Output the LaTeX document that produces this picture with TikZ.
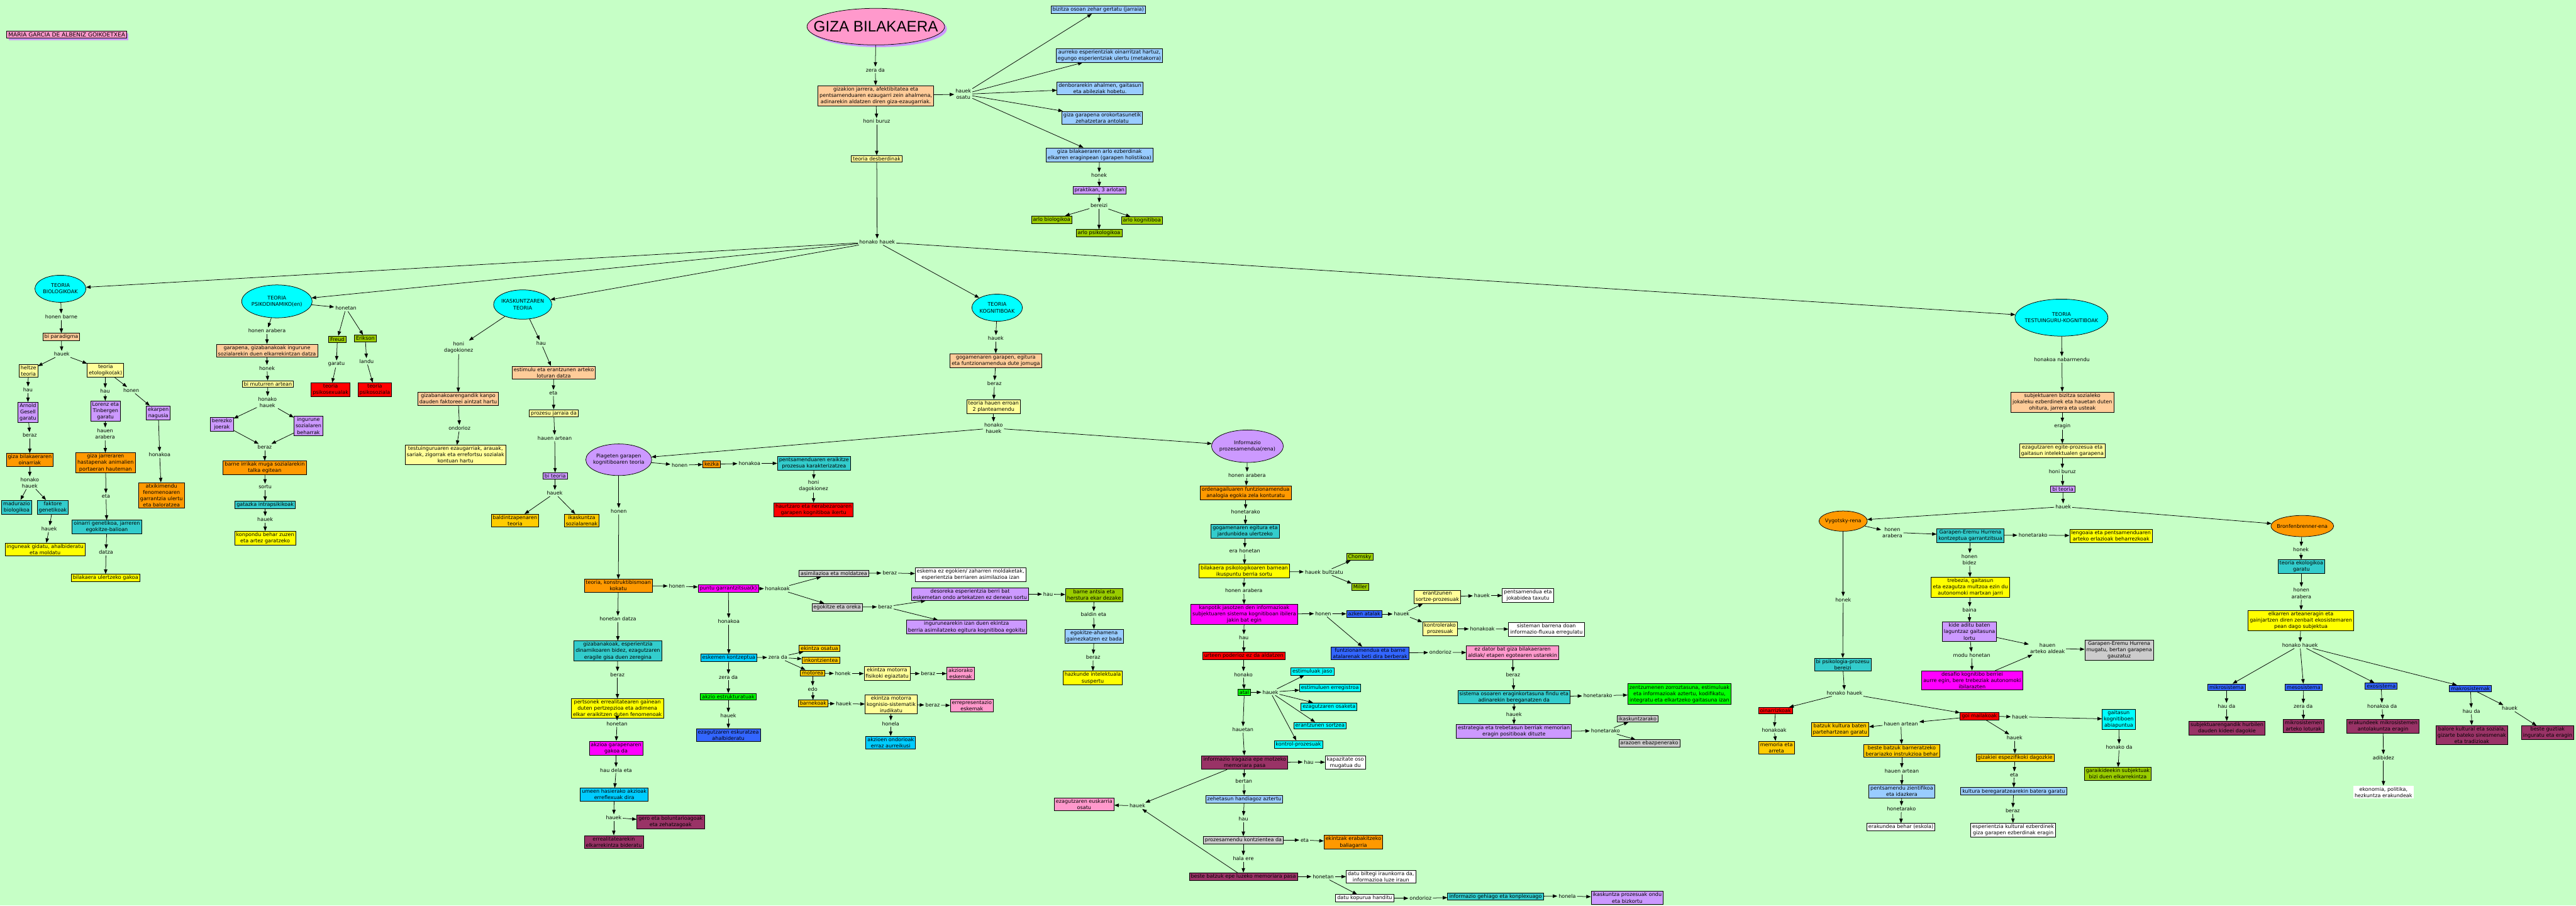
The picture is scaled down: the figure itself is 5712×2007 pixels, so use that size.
\documentclass[tikz,border=0pt]{standalone}
\usepackage{fontspec}
\setmainfont{DejaVu Sans}
\newfontfamily\titlefont{Liberation Sans}
\usepackage{xcolor}
\usetikzlibrary{arrows.meta,shapes.geometric}
\definecolor{bgGreen}{RGB}{198,255,198}
\definecolor{peach}{RGB}{255,204,153}
\definecolor{paleYellow}{RGB}{255,255,153}
\definecolor{brightYellow}{RGB}{255,255,0}
\definecolor{darkOrange}{RGB}{255,153,0}
\definecolor{gold}{RGB}{255,204,0}
\definecolor{cmTeal}{RGB}{51,204,204}
\definecolor{cmLav}{RGB}{204,153,255}
\definecolor{cmCyan}{RGB}{0,255,255}
\definecolor{cmSky}{RGB}{0,204,255}
\definecolor{cmLblue}{RGB}{153,204,255}
\definecolor{cmRoyal}{RGB}{51,102,255}
\definecolor{cmRed}{RGB}{255,0,0}
\definecolor{cmMag}{RGB}{255,0,255}
\definecolor{cmGreen}{RGB}{0,255,0}
\definecolor{cmOlive}{RGB}{153,204,0}
\definecolor{cmMaroon}{RGB}{153,51,102}
\definecolor{cmPink}{RGB}{255,153,204}
\definecolor{cmGray}{RGB}{204,204,204}
\begin{document}
\begin{tikzpicture}[x=0.01cm, y=-0.01cm,
  cbox/.style={draw, line width=0.3pt, align=center, inner xsep=1pt, inner ysep=0.8pt, font=\fontsize{3.2}{4}\selectfont},
  lbl/.style={align=center, inner sep=0.6pt, font=\fontsize{3.2}{4}\selectfont},
  theory/.style={ellipse, draw, line width=0.3pt, align=center, inner ysep=0pt, font=\fontsize{3.2}{4}\selectfont},
  arr/.style={line width=0.3pt, -{Triangle[length=0.1cm, width=0.075cm]}},
  titleoval/.style={ellipse, line width=0.3pt, minimum width=3cm, minimum height=0.81cm, inner xsep=-0.3cm, inner ysep=0pt, font=\titlefont\fontsize{9.6}{10}\selectfont},
  authorbox/.style={cbox, font=\fontsize{3.6}{4}\selectfont}]
\fill[bgGreen] (0,0) rectangle (5712,2007);
\useasboundingbox (0,0) rectangle (5712,2007);

\node[titleoval, fill=cmLav, text opacity=0] (titleshadow) at (1947,64) {GIZA BILAKAERA};
\node[titleoval, draw, fill=cmPink] (title) at (1942,59) {GIZA BILAKAERA};
\node[authorbox, draw=none, fill=cmLav, text opacity=0] (authorshadow) at (152,82) {MARIA GARCIA DE ALBENIZ GOIKOETXEA};
\node[authorbox, fill=cmPink] (author) at (148,77) {MARIA GARCIA DE ALBENIZ GOIKOETXEA};

\node[lbl] (zd) at (1941,155) {zera da};
\node[cbox, fill=peach] (def) at (1942,212) {gizakion jarrera, afektibitatea eta\\pentsamenduaren ezaugarri zein ahalmena,\\adinarekin aldatzen diren giza-ezaugarriak.};
\node[lbl] (osatu) at (2136,209) {hauek\\osatu};
\node[cbox, fill=cmLblue] (p1) at (2435,22) {bizitza osoan zehar gertatu (jarraia)};
\node[cbox, fill=cmLblue] (p2) at (2460,123) {aurreko esperientziak oinarritzat hartuz,\\egungo esperientziak ulertu (metakorra)};
\node[cbox, fill=cmLblue] (p3) at (2439,196) {denborarekin ahalmen, gaitasun\\eta abileziak hobetu.};
\node[cbox, fill=cmLblue] (p4) at (2444,261) {giza garapena orokortasunetik\\zehatzetara antolatu};
\node[cbox, fill=cmLblue] (p5) at (2438,343) {giza bilakaeraren arlo ezberdinak\\elkarren eraginpean (garapen holistikoa)};
\node[lbl] (honek1) at (2437,389) {honek};
\node[cbox, fill=cmLav] (prak) at (2438,422) {praktikan, 3 arlotan};
\node[lbl] (bereizi) at (2437,456) {bereizi};
\node[cbox, fill=cmOlive] (arlo1) at (2332,487) {arlo biologikoa};
\node[cbox, fill=cmOlive] (arlo2) at (2437,517) {arlo psikologikoa};
\node[cbox, fill=cmOlive] (arlo3) at (2532,489) {arlo kognitiboa};
\node[lbl] (hburuz) at (1944,269) {honi buruz};
\node[cbox, fill=paleYellow] (teoriak) at (1944,352) {teoria desberdinak};
\node[lbl] (honako) at (1945,536) {honako hauek};

\node[theory, fill=cmCyan, inner xsep=-0.03cm, minimum width=1.13cm, minimum height=0.6cm] (bio) at (134,640) {TEORIA\\BIOLOGIKOAK};
\node[theory, fill=cmCyan, inner xsep=-0.05cm, minimum width=1.56cm, minimum height=0.73cm] (psi) at (614,668) {TEORIA\\PSIKODINAMIKO(en)};
\node[theory, fill=cmCyan, inner xsep=-0.045cm, minimum width=1.29cm, minimum height=0.65cm] (ika) at (1159,675) {IKASKUNTZAREN\\TEORIA};
\node[theory, fill=cmCyan, inner xsep=-0.03cm, minimum width=1.12cm, minimum height=0.6cm] (kog) at (2211,682) {TEORIA\\KOGNITIBOAK};
\node[theory, fill=cmCyan, inner xsep=-0.15cm, minimum width=2.06cm, minimum height=0.82cm] (tes) at (4571,704) {TEORIA\\TESTUINGURU-KOGNITIBOAK};

\node[lbl] (b1) at (136,702) {honen barne};
\node[cbox, fill=peach] (bipar) at (136,747) {bi paradigma};
\node[lbl] (b2) at (137,785) {hauek};
\node[cbox, fill=paleYellow] (heltze) at (63,822) {heltze\\teoria};
\node[cbox, fill=paleYellow] (etol) at (234,821) {teoria\\etologiko(ak)};
\node[lbl] (b3) at (62,864) {hau};
\node[cbox, fill=cmLav] (gesell) at (62,914) {Arnold\\Gesell\\garatu};
\node[lbl] (b4) at (66,965) {beraz};
\node[cbox, fill=darkOrange] (oinarri) at (66,1019) {giza bilakaeraren\\oinarriak};
\node[lbl] (b5) at (66,1070) {honako\\hauek};
\node[cbox, fill=cmTeal] (madur) at (37,1124) {madurazio\\biologikoa};
\node[cbox, fill=cmTeal] (faktore) at (117,1124) {faktore\\genetikoak};
\node[lbl] (b6) at (109,1172) {hauek};
\node[cbox, fill=brightYellow] (ingune) at (100,1218) {inguneak gidatu, ahalbideratu\\eta moldatu};
\node[lbl] (b7) at (233,867) {hau};
\node[lbl] (b8) at (291,865) {honen};
\node[cbox, fill=cmLav] (lorenz) at (234,911) {Lorenz eta\\Tinbergen\\garatu};
\node[lbl] (b9) at (233,962) {hauen\\arabera};
\node[cbox, fill=darkOrange] (hasta) at (234,1026) {giza jarreraren\\hastapenak animalien\\portaeran hauteman};
\node[lbl] (b10) at (235,1100) {eta};
\node[cbox, fill=cmTeal] (genet) at (237,1168) {oinarri genetikoa, jarreren\\egokitze-balioan};
\node[lbl] (b11) at (235,1224) {datza};
\node[cbox, fill=brightYellow] (gakoa) at (234,1281) {bilakaera ulertzeko gakoa};
\node[cbox, fill=cmLav] (ekarpen) at (351,915) {ekarpen\\nagusia};
\node[lbl] (b12) at (354,1008) {honakoa};
\node[cbox, fill=darkOrange] (atxiki) at (358,1098) {atxikimendu\\fenomenoaren\\garrantzia ulertu\\eta baloratzea};

\node[lbl] (s1) at (592,733) {honen arabera};
\node[cbox, fill=peach] (garapena) at (592,777) {garapena, gizabanakoak ingurune\\sozialarekin duen elkarrekintzan datza};
\node[lbl] (s2) at (592,816) {honek};
\node[cbox, fill=paleYellow] (mutur) at (594,851) {bi muturren artean};
\node[lbl] (s3) at (593,892) {honako\\hauek};
\node[cbox, fill=cmLav] (berezko) at (492,940) {berezko\\joerak};
\node[cbox, fill=cmLav] (beharrak) at (684,944) {ingurune\\sozialaren\\beharrak};
\node[lbl] (s4) at (587,991) {beraz};
\node[cbox, fill=darkOrange] (irrika) at (587,1037) {barne irrikak muga sozialarekin\\talka egitean};
\node[lbl] (s5) at (588,1079) {sortu};
\node[cbox, fill=cmTeal] (gatazka) at (588,1119) {gatazka intrapsikikoak};
\node[lbl] (s6) at (588,1151) {hauek};
\node[cbox, fill=brightYellow] (konpondu) at (588,1193) {konpondu behar zuzen\\eta artez garatzeko};
\node[lbl] (s7) at (767,683) {honetan};
\node[cbox, fill=cmOlive] (freud) at (748,752) {Freud};
\node[cbox, fill=cmOlive] (erikson) at (810,750) {Erikson};
\node[lbl] (s8) at (746,807) {garatu};
\node[lbl] (s9) at (813,801) {landu};
\node[cbox, fill=cmRed] (psex) at (733,864) {teoria\\psikosexualak};
\node[cbox, fill=cmRed] (psoz) at (831,864) {teoria\\psikosoziala};

\node[lbl] (k1) at (1017,770) {honi\\dagokionez};
\node[cbox, fill=peach] (kanpo) at (1016,884) {gizabanakoarengandik kanpo\\dauden faktoreei aintzat hartu};
\node[lbl] (k2) at (1019,949) {ondorioz};
\node[cbox, fill=paleYellow] (testu) at (1010,1008) {testuinguruaren ezaugarriak, arauak,\\sariak, zigorrak eta errefortsu sozialak\\kontuan hartu};
\node[lbl] (k3) at (1200,761) {hau};
\node[cbox, fill=peach] (estim) at (1228,826) {estimulu eta erantzunen arteko\\loturan datza};
\node[lbl] (k4) at (1227,871) {eta};
\node[cbox, fill=paleYellow] (jarraia) at (1228,916) {prozesu jarraia da};
\node[lbl] (k5) at (1230,971) {hauen artean};
\node[cbox, fill=cmLav] (biteo) at (1231,1055) {bi teoria};
\node[lbl] (k6) at (1230,1093) {hauek};
\node[cbox, fill=gold] (baldin) at (1142,1154) {baldintzapenaren\\teoria};
\node[cbox, fill=gold] (ikassoz) at (1290,1154) {ikaskuntza\\sozialarenak};

\node[lbl] (g1) at (2208,750) {hauek};
\node[cbox, fill=peach] (gogam) at (2208,799) {gogamenaren garapen, egitura\\eta funtzionamendua dute jomuga};
\node[lbl] (g2) at (2205,850) {beraz};
\node[cbox, fill=paleYellow] (erroan) at (2203,901) {teoria hauen erroan\\2 planteamendu};
\node[lbl] (g3) at (2203,949) {honako\\hauek};
\node[theory, fill=cmLav, inner xsep=-0.12cm, minimum width=1.46cm, minimum height=0.7cm] (piaget) at (1372,1019) {Piageten garapen\\kognitiboaren teoria};
\node[theory, fill=cmLav, inner xsep=-0.06cm, minimum width=1.58cm, minimum height=0.72cm] (info) at (2766,989) {Informazio\\prozesamendua(rena)};

\node[lbl] (a1) at (1507,1031) {honen};
\node[cbox, fill=darkOrange] (kezka) at (1578,1029) {kezka};
\node[lbl] (a2) at (1662,1027) {honakoa};
\node[cbox, fill=cmTeal] (eraiki) at (1805,1027) {pentsamenduaren eraikitze\\prozesua karakterizatzea};
\node[lbl] (a3) at (1804,1077) {honi\\dagokionez};
\node[cbox, fill=cmRed] (haurtz) at (1804,1130) {haurtzaro eta nerabezaroaren\\garapen kognitiboa ikertu};
\node[lbl] (a4) at (1372,1133) {honen};
\node[cbox, fill=darkOrange] (konstr) at (1371,1298) {teoria, konstruktibismoan\\kokatu};
\node[lbl] (a5) at (1501,1299) {honen};
\node[cbox, fill=cmMag] (puntu) at (1615,1304) {puntu garrantzitsua(k)};
\node[lbl] (a6) at (1724,1305) {honakoak};
\node[cbox, fill=cmGray] (asimil) at (1849,1271) {asimilazioa eta moldatzea};
\node[lbl] (a7) at (1973,1270) {beraz};
\node[cbox, fill=white] (eskema) at (2152,1274) {eskema ez egokien/ zaharren moldaketak,\\esperientzia berriaren asimilazioa izan};
\node[cbox, fill=cmGray] (oreka) at (1856,1346) {egokitze eta oreka};
\node[lbl] (a8) at (1963,1345) {beraz};
\node[cbox, fill=cmLav] (desoreka) at (2151,1317) {desoreka esperientzia berri bat\\eskemetan ondo artekatzen ez denean sortu};
\node[cbox, fill=cmLav] (egokitu) at (2143,1390) {ingurunearekin izan duen ekintza\\berria asimilatzeko egitura kognitiboa egokitu};
\node[lbl] (a9) at (2324,1317) {hau};
\node[cbox, fill=cmOlive] (antsia) at (2426,1319) {barne antsia eta\\herstura ekar dezake};
\node[lbl] (a10) at (2425,1362) {baldin eta};
\node[cbox, fill=cmLblue] (ahamena) at (2426,1410) {egokitze-ahamena\\gainezkatzen ez bada};
\node[lbl] (a11) at (2424,1457) {beraz};
\node[cbox, fill=brightYellow] (hazkunde) at (2423,1503) {hazkunde intelektuala\\suspertu};
\node[lbl] (a12) at (1370,1372) {honetan datza};
\node[cbox, fill=cmTeal] (zeregin) at (1370,1443) {gizabanakoak, esperientzia\\dinamikoaren bidez, ezagutzaren\\eragile gisa duen zeregina};
\node[lbl] (a13) at (1369,1495) {beraz};
\node[cbox, fill=brightYellow] (fenom) at (1369,1570) {pertsonek errealitatearen gainean\\duten pertzepzioa eta adimena\\elkar eraikitzen duten fenomenoak};
\node[lbl] (a14) at (1368,1604) {honetan};
\node[cbox, fill=cmMag] (akzioa) at (1366,1658) {akzioa garapenaren\\gakoa da};
\node[lbl] (a15) at (1366,1707) {hau dela eta};
\node[cbox, fill=cmSky] (umeen) at (1362,1761) {umeen hasierako akzioak\\erreflexuak dira};
\node[lbl] (a16) at (1361,1812) {hauek};
\node[cbox, fill=cmMaroon] (gero) at (1487,1822) {gero eta boluntarioagoak\\eta zehatzagoak};
\node[cbox, fill=cmMaroon] (erreal) at (1361,1866) {errealitatearekin\\elkarrekintza bideratu};
\node[lbl] (a17) at (1616,1377) {honakoa};
\node[cbox, fill=cmSky] (eskemen) at (1616,1458) {eskemen kontzeptua};
\node[lbl] (a18) at (1725,1457) {zera da};
\node[lbl] (a19) at (1615,1501) {zera da};
\node[cbox, fill=cmGreen] (estrukt) at (1615,1544) {akzio estrukturatuak};
\node[lbl] (a20) at (1615,1586) {hauek};
\node[cbox, fill=cmRoyal] (eskurat) at (1615,1629) {ezagutzaren eskuratzea\\ahalbideratu};
\node[cbox, fill=gold] (osatua) at (1817,1437) {ekintza osatua};
\node[cbox, fill=gold] (inkontz) at (1820,1463) {inkontzientea};
\node[cbox, fill=gold] (motorea) at (1802,1492) {motorea};
\node[lbl] (a21) at (1869,1493) {honek};
\node[cbox, fill=paleYellow] (fisiko) at (1967,1493) {ekintza motorra\\fisikoki egiaztatu};
\node[lbl] (a22) at (2058,1493) {beraz};
\node[cbox, fill=cmPink] (akziorako) at (2130,1493) {akziorako\\eskemak};
\node[lbl] (a23) at (1802,1527) {edo};
\node[cbox, fill=gold] (barneko) at (1803,1559) {barnekoak};
\node[lbl] (a24) at (1871,1560) {hauek};
\node[cbox, fill=paleYellow] (kognisio) at (1976,1561) {ekintza motorra\\kognisio-sistematik\\irudikatu};
\node[lbl] (a25) at (2068,1563) {beraz};
\node[cbox, fill=cmPink] (errepre) at (2155,1564) {errepresentazio\\eskemak};
\node[lbl] (a26) at (1975,1604) {honela};
\node[cbox, fill=cmSky] (ondorio) at (1975,1646) {akzioen ondorioak\\erraz aurreikusi};

\node[lbl] (i1) at (2765,1053) {honen arabera};
\node[cbox, fill=darkOrange] (ordena) at (2762,1092) {ordenagailuaren funtzionamendua\\analogia egokia zela konturatu};
\node[lbl] (i2) at (2762,1135) {honetarako};
\node[cbox, fill=cmTeal] (jardun) at (2761,1178) {gogamenaren egitura eta\\jardunbidea ulertzeko};
\node[lbl] (i3) at (2760,1221) {era honetan};
\node[cbox, fill=brightYellow] (ikusp) at (2759,1266) {bilakaera psikologikoaren barnean\\ikuspuntu berria sortu};
\node[lbl] (i4) at (2936,1268) {hauek bultzatu};
\node[cbox, fill=cmOlive] (chomsky) at (3015,1234) {Chomsky};
\node[cbox, fill=cmOlive] (miller) at (3016,1301) {Miller};
\node[lbl] (i5) at (2758,1309) {honen arabera};
\node[cbox, fill=cmMag] (kanpotik) at (2759,1362) {kanpotik jasotzen den informazioak\\subjektuaren sistema kognitiboan ibilera\\jakin bat egin};
\node[lbl] (i6) at (2934,1360) {honen};
\node[cbox, fill=cmRoyal] (azken) at (3025,1361) {azken atalak};
\node[lbl] (i7) at (3108,1361) {hauek};
\node[cbox, fill=paleYellow] (sortze) at (3187,1323) {erantzunen\\sortze-prozesuak};
\node[lbl] (i8) at (3286,1320) {hauek};
\node[cbox, fill=white] (taxutu) at (3388,1320) {pentsamendua eta\\jokabidea taxutu};
\node[cbox, fill=paleYellow] (kontrolp) at (3193,1394) {kontrolerako\\prozesuak};
\node[lbl] (i9) at (3287,1394) {honakoak};
\node[cbox, fill=white] (fluxua) at (3429,1395) {sisteman barrena doan\\informazio-fluxua erregulatu};
\node[cbox, fill=cmRoyal] (berberak) at (3038,1448) {funtzionamendua eta barne\\atalarenak beti dira berberak};
\node[lbl] (i10) at (3194,1446) {ondorioz};
\node[cbox, fill=cmPink] (ezdator) at (3354,1447) {ez dator bat giza bilakaeraren\\aldiak/ etapen egotearen ustarekin};
\node[lbl] (i11) at (3355,1496) {beraz};
\node[cbox, fill=cmTeal] (findu) at (3357,1545) {sistema osoaren eraginkortasuna findu eta\\adinarekin bereganatzen da};
\node[lbl] (i12) at (3543,1542) {honetarako};
\node[cbox, fill=cmGreen] (zentzu) at (3724,1538) {zentzumenen zorroztasuna, estimuluak\\eta informazioak aztertu, kodifikatu,\\integratu eta elkartzeko gaitasuna izan};
\node[lbl] (i13) at (3357,1583) {hauek};
\node[cbox, fill=cmLav] (estrat) at (3357,1621) {estrategia eta trebetasun berriak memorian\\eragin positiboak dituzte};
\node[lbl] (i14) at (3560,1620) {honetarako};
\node[cbox, fill=cmGray] (ikaskr) at (3631,1593) {ikaskuntzarako};
\node[cbox, fill=cmGray] (arazo) at (3657,1648) {arazoen ebazpenerako};
\node[lbl] (i15) at (2758,1413) {hau};
\node[cbox, fill=cmRed] (urteen) at (2758,1454) {urteen poderioz ez da aldatzen};
\node[lbl] (i16) at (2757,1495) {honako};
\node[cbox, fill=cmGreen] (atal) at (2759,1535) {atal};
\node[lbl] (i17) at (2817,1534) {hauek};
\node[cbox, fill=cmCyan] (jaso) at (2910,1488) {estimuluak jaso};
\node[cbox, fill=cmCyan] (erreg) at (2949,1525) {estimuluen erregistroa};
\node[cbox, fill=cmCyan] (osaketa) at (2947,1566) {ezagutzaren osaketa};
\node[cbox, fill=cmCyan] (erantz) at (2927,1608) {erantzunen sortzea};
\node[cbox, fill=cmCyan] (kontrol) at (2879,1650) {kontrol-prozesuak};
\node[lbl] (i18) at (2756,1617) {hauetan};
\node[cbox, fill=cmMaroon] (motz) at (2760,1690) {informazio iragazia epe motzeko\\memoriara pasa};
\node[lbl] (i19) at (2902,1689) {hau};
\node[cbox, fill=white] (kapaz) at (2983,1690) {kapazitate oso\\mugatua du};
\node[lbl] (i20) at (2758,1731) {bertan};
\node[cbox, fill=cmLblue] (zehet) at (2759,1771) {zehetasun handiagoz aztertu};
\node[lbl] (i21) at (2757,1815) {hau};
\node[cbox, fill=cmGray] (kontz) at (2757,1862) {prozesamendu kontzientea da};
\node[lbl] (i22) at (2893,1862) {eta};
\node[cbox, fill=darkOrange] (erabaki) at (3001,1867) {ekintzak erabakitzeko\\baliagarria};
\node[lbl] (i23) at (2757,1903) {hala ere};
\node[cbox, fill=cmMaroon] (luzeko) at (2757,1943) {beste batzuk epe luzeko memoriara pasa};
\node[lbl] (i24) at (2934,1943) {honetan};
\node[cbox, fill=white] (biltegi) at (3062,1943) {datu biltegi iraunkorra da,\\informazioa luze iraun};
\node[cbox, fill=white] (kopurua) at (3026,1991) {datu kopurua handitu};
\node[lbl] (i25) at (3150,1991) {ondorioz};
\node[cbox, fill=cmTeal] (gehiago) at (3316,1987) {informazio gehiago eta konplexuago};
\node[lbl] (i26) at (3475,1986) {honela};
\node[cbox, fill=cmLav] (bizkor) at (3608,1990) {ikaskuntza prozesuak ondu\\eta bizkortu};
\node[lbl] (i27) at (2522,1786) {hauek};
\node[cbox, fill=cmPink] (euskarri) at (2404,1783) {ezagutzaren euskarria\\osatu};

\node[lbl] (t1) at (4572,797) {honakoa nabarmendu};
\node[cbox, fill=peach] (jokaleku) at (4573,891) {subjektuaren bizitza sozialeko\\jokaleku ezberdinek eta hauetan duten\\ohitura, jarrera eta usteak};
\node[lbl] (t2) at (4573,944) {eragin};
\node[cbox, fill=paleYellow] (egite) at (4573,999) {ezagutzaren egite-prozesua eta\\gaitasun intelektualen garapena};
\node[lbl] (t3) at (4573,1045) {honi buruz};
\node[cbox, fill=cmLav] (biteo2) at (4574,1084) {bi teoria};
\node[lbl] (t4) at (4575,1123) {hauek};
\node[theory, fill=darkOrange, inner xsep=-0.05cm, minimum width=1.07cm, minimum height=0.45cm] (vyg) at (4087,1155) {Vygotsky-rena};
\node[theory, fill=darkOrange, inner xsep=-0.1cm, minimum width=1.39cm, minimum height=0.47cm] (bron) at (5105,1166) {Bronfenbrenner-ena};
\node[lbl] (t5) at (4196,1180) {honen\\arabera};
\node[cbox, fill=cmTeal] (geh) at (4369,1187) {Garapen-Eremu Hurrena\\kontzeptua garrantzitsua};
\node[lbl] (t6) at (4508,1186) {honetarako};
\node[cbox, fill=brightYellow] (lengo) at (4681,1188) {lengoaia eta pentsamenduaren\\arteko erlazioak beharrezkoak};
\node[lbl] (t7) at (4367,1240) {honen\\bidez};
\node[cbox, fill=brightYellow] (trebezia) at (4369,1302) {trebezia, gaitasun\\eta ezagutza multzoa ezin du\\autonomoki martxan jarri};
\node[lbl] (t8) at (4367,1352) {baina};
\node[cbox, fill=cmLav] (kide) at (4367,1400) {kide aditu baten\\laguntzaz gaitasuna\\lortu};
\node[lbl] (t9) at (4540,1437) {hauen\\arteko aldeak};
\node[cbox, fill=cmGray] (mugatu) at (4699,1441) {Garapen-Eremu Hurrena\\mugatu, bertan garapena\\gauzatuz};
\node[lbl] (t10) at (4372,1452) {modu honetan};
\node[cbox, fill=cmMag] (desafio) at (4373,1508) {desafio kognitibo berriei\\aurre egin, bere trebeziak autonomoki\\ibilarazten};
\node[lbl] (t11) at (4087,1329) {honek};
\node[cbox, fill=cmTeal] (biprozesu) at (4086,1473) {bi psikologia-prozesu\\bereizi};
\node[lbl] (t12) at (4090,1536) {honako hauek};
\node[cbox, fill=cmRed] (oinarrizko) at (3937,1575) {oinarrizkoak};
\node[lbl] (t13) at (3934,1618) {honakoak};
\node[cbox, fill=gold] (memoria) at (3939,1657) {memoria eta\\arreta};
\node[cbox, fill=cmRed] (goi) at (4389,1587) {goi mailakoak};
\node[lbl] (t14) at (4215,1604) {hauen artean};
\node[cbox, fill=gold] (partehartu) at (4080,1617) {batzuk kultura baten\\partehartzean garatu};
\node[cbox, fill=gold] (instruk) at (4217,1664) {beste batzuk barneratzeko\\berariazko instrukzioa behar};
\node[lbl] (t15) at (4217,1709) {hauen artean};
\node[cbox, fill=cmLblue] (zientif) at (4217,1754) {pentsamendu zientifikoa\\eta idazkera};
\node[lbl] (t16) at (4216,1793) {honetarako};
\node[cbox, fill=white] (eskola) at (4215,1833) {erakundea behar (eskola)};
\node[lbl] (t17) at (4479,1589) {hauek};
\node[lbl] (t18) at (4467,1635) {hauek};
\node[cbox, fill=cmCyan] (abiap) at (4698,1594) {gaitasun\\kognitiboen\\abiapuntua};
\node[lbl] (t19) at (4699,1656) {honako da};
\node[cbox, fill=cmOlive] (garaik) at (4696,1715) {garaikideekin subjektuak\\bizi duen elkarrekintza};
\node[cbox, fill=gold] (espezif) at (4468,1679) {gizakiei espezifikoki dagozkie};
\node[lbl] (t20) at (4466,1717) {eta};
\node[cbox, fill=cmLblue] (beregar) at (4465,1754) {kultura beregaratzearekin batera garatu};
\node[lbl] (t21) at (4463,1797) {beraz};
\node[cbox, fill=white] (kultural) at (4464,1840) {esperientzia kultural ezberdinek\\giza garapen ezberdinak eragin};
\node[lbl] (t22) at (5102,1218) {honek};
\node[cbox, fill=cmTeal] (ekolog) at (5103,1256) {teoria ekologikoa\\garatu};
\node[lbl] (t23) at (5103,1315) {honen\\arabera};
\node[cbox, fill=brightYellow] (ekosist) at (5102,1375) {elkarren arteaneragin eta\\gainjartzen diren zenbait ekosistemaren\\pean dago subjektua};
\node[lbl] (t24) at (5100,1430) {honako hauek};
\node[cbox, fill=cmRoyal] (mikro) at (4937,1523) {mikrosistema};
\node[cbox, fill=cmRoyal] (meso) at (5108,1523) {mesosistema};
\node[cbox, fill=cmRoyal] (exo) at (5280,1521) {exosistema};
\node[cbox, fill=cmRoyal] (makro) at (5478,1526) {makrosistemak};
\node[lbl] (t25) at (4937,1565) {hau da};
\node[cbox, fill=cmMaroon] (hurbil) at (4938,1614) {subjektuarengandik hurbilen\\dauden kideei dagokie};
\node[lbl] (t26) at (5107,1566) {zera da};
\node[cbox, fill=cmMaroon] (loturak) at (5108,1609) {mikrosistemen\\arteko loturak};
\node[lbl] (t27) at (5282,1565) {honakoa da};
\node[cbox, fill=cmMaroon] (antolak) at (5284,1610) {erakundeek mikrosistemen\\antolakuntza eragin};
\node[lbl] (t28) at (5285,1679) {adibidez};
\node[cbox, fill=white, draw=none] (ekonom) at (5285,1756) {ekonomia, politika,\\hezkuntza erakundeak};
\node[lbl] (t29) at (5480,1576) {hau da};
\node[lbl] (t30) at (5565,1570) {hauek};
\node[cbox, fill=cmMaroon] (balore) at (5481,1629) {balore kultural eta soziala,\\gizarte bateko sinesmenak\\eta tradizioak};
\node[cbox, fill=cmMaroon] (inguratu) at (5649,1624) {beste guztiak\\inguratu eta eragin};

\foreach \a/\b in {title/zd, zd/def, def/osatu, osatu/p1, osatu/p2, osatu/p3, osatu/p4, osatu/p5, p5/honek1, honek1/prak, prak/bereizi, bereizi/arlo1, bereizi/arlo2, bereizi/arlo3, def/hburuz, hburuz/teoriak, teoriak/honako, honako/bio, honako/psi, honako/ika, honako/kog, honako/tes}
  \draw[arr] (\a) -- (\b);
\foreach \a/\b in {bio/b1, b1/bipar, bipar/b2, b2/heltze, b2/etol, heltze/b3, b3/gesell, gesell/b4, b4/oinarri, oinarri/b5, b5/madur, b5/faktore, faktore/b6, b6/ingune, etol/b7, b7/lorenz, lorenz/b9, b9/hasta, hasta/b10, b10/genet, genet/b11, b11/gakoa, etol/b8, b8/ekarpen, ekarpen/b12, b12/atxiki}
  \draw[arr] (\a) -- (\b);
\foreach \a/\b in {psi/s1, s1/garapena, garapena/s2, s2/mutur, mutur/s3, s3/berezko, s3/beharrak, berezko/s4, beharrak/s4, s4/irrika, irrika/s5, s5/gatazka, gatazka/s6, s6/konpondu, psi/s7, s7/freud, s7/erikson, freud/s8, s8/psex, erikson/s9, s9/psoz}
  \draw[arr] (\a) -- (\b);
\foreach \a/\b in {ika/k1, k1/kanpo, kanpo/k2, k2/testu, ika/k3, k3/estim, estim/k4, k4/jarraia, jarraia/k5, k5/biteo, biteo/k6, k6/baldin, k6/ikassoz, kog/g1, g1/gogam, gogam/g2, g2/erroan, erroan/g3, g3/piaget, g3/info}
  \draw[arr] (\a) -- (\b);
\foreach \a/\b in {piaget/a1, a1/kezka, kezka/a2, a2/eraiki, eraiki/a3, a3/haurtz, piaget/a4, a4/konstr, konstr/a5, a5/puntu, puntu/a6, a6/asimil, a6/oreka, asimil/a7, a7/eskema, oreka/a8, a8/desoreka, a8/egokitu, desoreka/a9, a9/antsia, antsia/a10, a10/ahamena, ahamena/a11, a11/hazkunde, konstr/a12, a12/zeregin, zeregin/a13, a13/fenom, fenom/a14, a14/akzioa, akzioa/a15, a15/umeen, umeen/a16, a16/erreal, a16/gero, puntu/a17, a17/eskemen, eskemen/a18, a18/osatua, a18/inkontz, a18/motorea, eskemen/a19, a19/estrukt, estrukt/a20, a20/eskurat, motorea/a21, a21/fisiko, fisiko/a22, a22/akziorako, motorea/a23, a23/barneko, barneko/a24, a24/kognisio, kognisio/a25, a25/errepre, kognisio/a26, a26/ondorio}
  \draw[arr] (\a) -- (\b);
\foreach \a/\b in {info/i1, i1/ordena, ordena/i2, i2/jardun, jardun/i3, i3/ikusp, ikusp/i4, i4/chomsky, i4/miller, ikusp/i5, i5/kanpotik, kanpotik/i6, i6/azken, azken/i7, i7/sortze, i7/kontrolp, sortze/i8, i8/taxutu, kontrolp/i9, i9/fluxua, i6/berberak, berberak/i10, i10/ezdator, ezdator/i11, i11/findu, findu/i12, i12/zentzu, findu/i13, i13/estrat, estrat/i14, i14/ikaskr, i14/arazo, kanpotik/i15, i15/urteen, urteen/i16, i16/atal, atal/i17, i17/jaso, i17/erreg, i17/osaketa, i17/erantz, i17/kontrol, atal/i18, i18/motz, motz/i19, i19/kapaz, motz/i20, i20/zehet, zehet/i21, i21/kontz, kontz/i22, i22/erabaki, kontz/i23, i23/luzeko, luzeko/i24, i24/biltegi, i24/kopurua, kopurua/i25, i25/gehiago, gehiago/i26, i26/bizkor, motz/i27, luzeko/i27, i27/euskarri}
  \draw[arr] (\a) -- (\b);
\foreach \a/\b in {tes/t1, t1/jokaleku, jokaleku/t2, t2/egite, egite/t3, t3/biteo2, biteo2/t4, t4/vyg, t4/bron, vyg/t5, t5/geh, geh/t6, t6/lengo, geh/t7, t7/trebezia, trebezia/t8, t8/kide, kide/t10, t10/desafio, kide/t9, desafio/t9, t9/mugatu, vyg/t11, t11/biprozesu, biprozesu/t12, t12/oinarrizko, t12/goi, oinarrizko/t13, t13/memoria, goi/t14, t14/partehartu, t14/instruk, instruk/t15, t15/zientif, zientif/t16, t16/eskola, goi/t17, t17/abiap, abiap/t19, t19/garaik, goi/t18, t18/espezif, espezif/t20, t20/beregar, beregar/t21, t21/kultural}
  \draw[arr] (\a) -- (\b);
\foreach \a/\b in {bron/t22, t22/ekolog, ekolog/t23, t23/ekosist, ekosist/t24, t24/mikro, t24/meso, t24/exo, t24/makro, mikro/t25, t25/hurbil, meso/t26, t26/loturak, exo/t27, t27/antolak, antolak/t28, t28/ekonom, makro/t29, t29/balore, makro/t30, t30/inguratu}
  \draw[arr] (\a) -- (\b);
\end{tikzpicture}
\end{document}
